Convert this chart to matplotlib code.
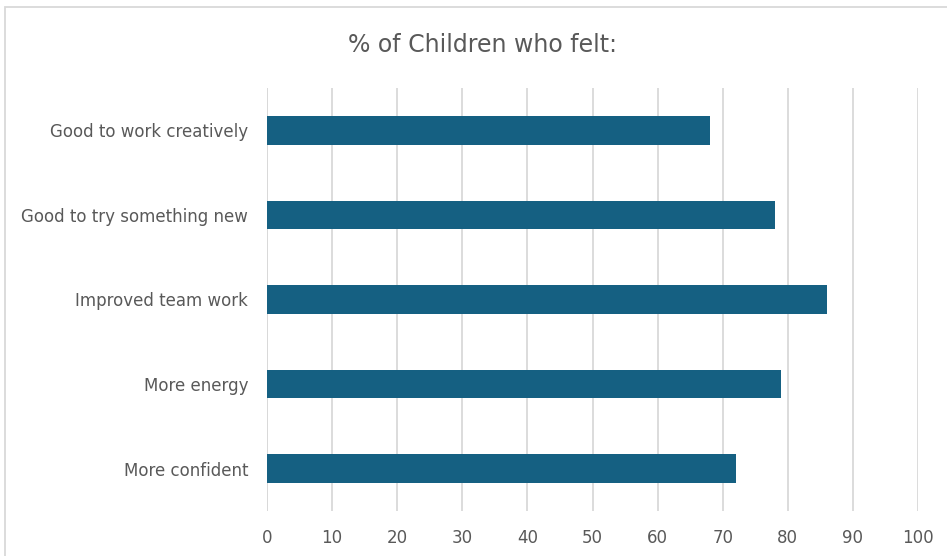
import matplotlib.pyplot as plt
from matplotlib.patches import Rectangle

categories = ["Good to work creatively", "Good to try something new",
              "Improved team work", "More energy", "More confident"]
values = [68, 78, 86, 79, 72]
xticks = [0, 10, 20, 30, 40, 50, 60, 70, 80, 90, 100]

plt.rcParams['font.family'] = ['DejaVu Sans']
W, H = 947, 556
fig = plt.figure(figsize=(W/100, H/100), dpi=100)
ax = fig.add_axes([267/W, 1-511/H, (918-267)/W, (511-88)/H])

ypos = list(range(len(categories)))
ax.barh(ypos, values, height=0.34, color='#156082', zorder=3)
ax.set_ylim(len(categories)-0.5, -0.5)
ax.set_xlim(0, 100)
ax.set_xticks(xticks)
ax.set_yticks(ypos)
ax.set_yticklabels(categories)
ax.grid(axis='x', color='#d9d9d9', linewidth=1.3, zorder=0)
ax.axvline(0, color='#d9d9d9', linewidth=1.3, zorder=1)
for s in ax.spines.values():
    s.set_visible(False)
ax.tick_params(axis='both', length=0, colors='#595959', labelsize=12)
ax.tick_params(axis='x', pad=13)
ax.tick_params(axis='y', pad=13.5)

fig.text(482/W, 1-45/H, "% of Children who felt:", ha='center', va='center',
         fontsize=17, color='#595959')

fig.patches.append(Rectangle((5/W, -0.1), 1.2, 1.1-7/H, transform=fig.transFigure,
                             fill=False, edgecolor='#d9d9d9', linewidth=1.3))
fig.savefig('out.png', dpi=100)
